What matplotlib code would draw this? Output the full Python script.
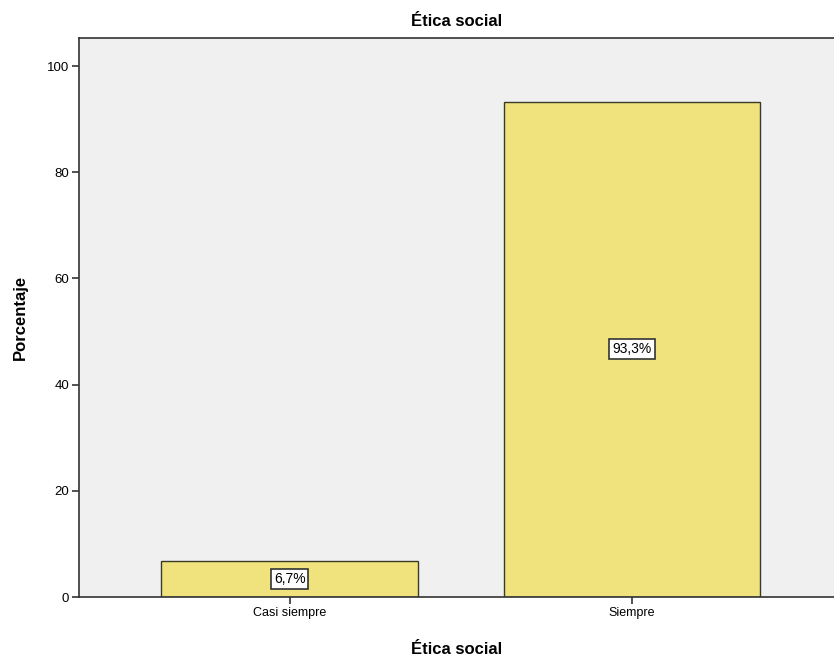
import matplotlib.pyplot as plt

categorias = ['Casi siempre', 'Siempre']
porcentajes = [6.7, 93.3]
etiquetas = ['6,7%', '93,3%']
yticks = [0, 20, 40, 60, 80, 100]

plt.rcParams['font.family'] = ['Liberation Sans', 'DejaVu Sans']

fig = plt.figure(figsize=(8.34, 6.64), dpi=100)
ax = fig.add_axes([79 / 834, 67 / 664, 1 - 79 / 834, 559 / 664])
ax.set_facecolor('#F0F0F0')

x = list(range(len(categorias)))
ax.bar(x, porcentajes, width=0.75, color='#F0E27C', edgecolor='#3A3A2A', linewidth=1.0, zorder=2)

for xi, v, lab in zip(x, porcentajes, etiquetas):
    ax.text(xi, v / 2, lab, ha='center', va='center', fontsize=10, zorder=3,
            bbox=dict(boxstyle='square,pad=0.22', fc='white', ec='#333333', lw=1.2))

ax.set_xlim(-0.615, 1.59)
ax.set_ylim(0, 105.3)
ax.set_xticks(x)
ax.set_xticklabels(categorias, fontsize=9)
ax.set_yticks(yticks)
ax.set_yticklabels([str(t) for t in yticks], fontsize=9.5)
ax.tick_params(direction='out', length=5, width=1.2, color='#333333', pad=2)

for s in ['left', 'top', 'bottom']:
    ax.spines[s].set_color('#333333')
    ax.spines[s].set_linewidth(1.2)
ax.spines['right'].set_visible(False)

ax.set_title('Ética social', fontsize=12, fontweight='bold', pad=9)
ax.set_xlabel('Ética social', fontsize=12, fontweight='bold', labelpad=17)
ax.set_ylabel('Porcentaje', fontsize=12, fontweight='bold', labelpad=14)

fig.savefig('out.png', dpi=100)
